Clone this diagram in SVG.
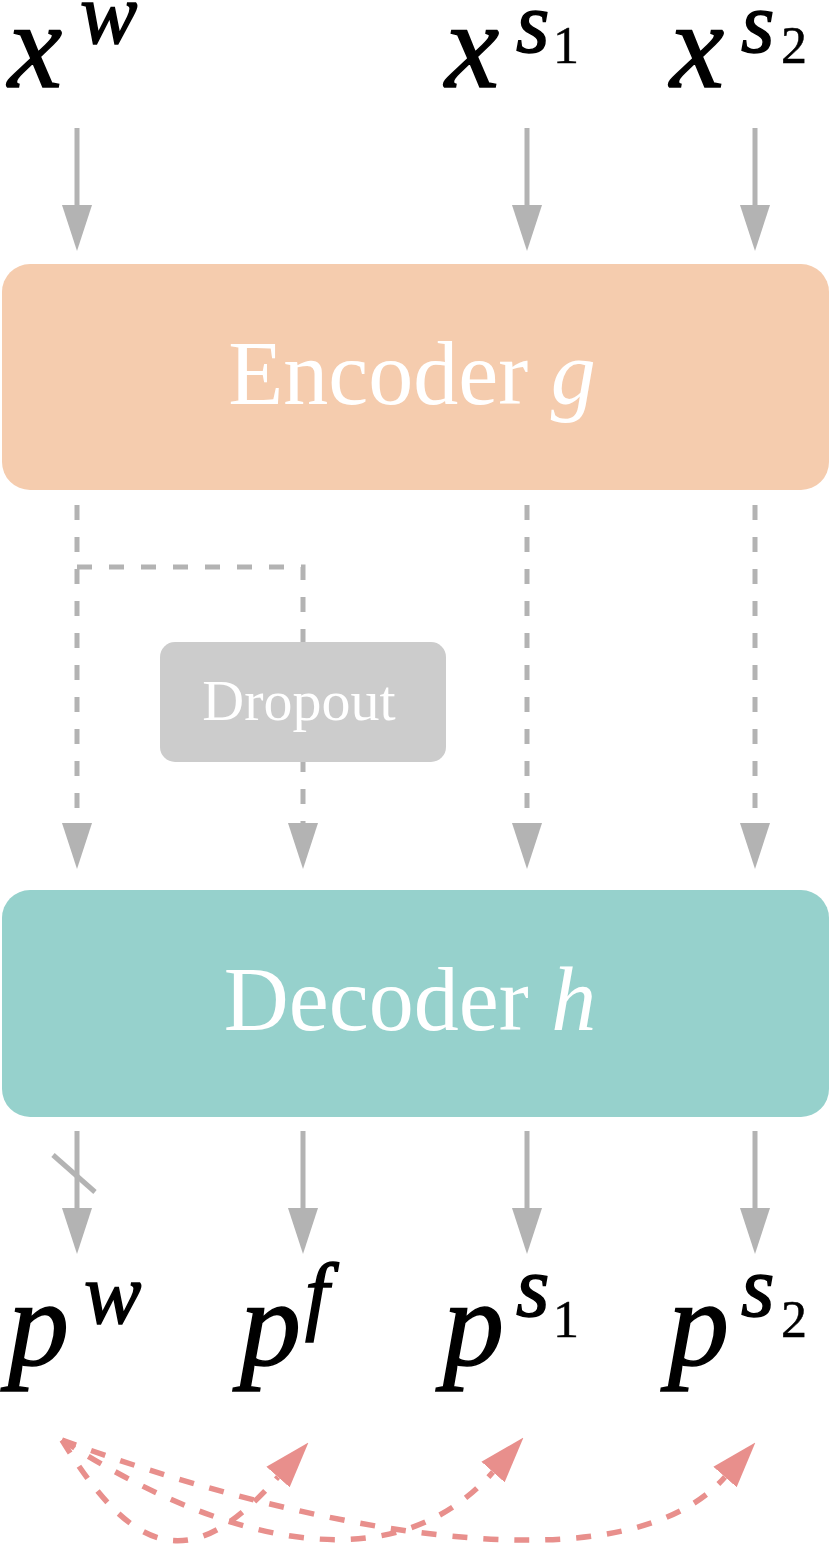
<svg xmlns="http://www.w3.org/2000/svg" width="830" height="1548" viewBox="0 0 830 1548">
<style>
.m{font-family:"Liberation Serif","Times New Roman",serif;font-style:italic;fill:#000;stroke:#000;stroke-width:1.5}
.big{font-size:122px}
.sup{font-size:86px}
.sub{font-size:52px;font-style:normal;stroke-width:0.5}
.bt{font-family:"Liberation Serif","Times New Roman",serif;fill:#fff;text-anchor:middle}
.g{stroke:#b3b3b3;stroke-width:5;fill:none}
.d{stroke-dasharray:15 17}
.r{stroke:#e88f8c;stroke-width:5.5;fill:none;stroke-dasharray:15 16}
</style>
<defs>
<marker id="ga" markerUnits="userSpaceOnUse" viewBox="0 -15 46 30" markerWidth="46" markerHeight="30" refX="0" refY="0" orient="auto">
<path d="M0,-15 L46,0 L0,15 Z" fill="#b3b3b3"/>
</marker>
<marker id="ra" markerUnits="userSpaceOnUse" viewBox="0 -16 46 32" markerWidth="46" markerHeight="32" refX="0" refY="0" orient="auto">
<path d="M0,-15.5 L46,0 L0,15.5 Z" fill="#e88f8c"/>
</marker>
</defs>

<g id="label-xw">
<text class="m big" x="8" y="87">x</text>
<text class="m sup" x="80" y="43">w</text>
</g>
<g id="label-xs1">
<text class="m big" x="445" y="87">x</text>
<text class="m sup" x="516" y="52">s</text>
<text class="m sub" x="553" y="63">1</text>
</g>
<g id="label-xs2">
<text class="m big" x="670" y="87">x</text>
<text class="m sup" x="741" y="52">s</text>
<text class="m sub" x="781" y="63">2</text>
</g>

<g id="encoder">
<rect x="2" y="264" width="827" height="226" rx="28" ry="28" fill="#f5ccae"/>
<text class="bt" x="412" y="404" font-size="90">Encoder <tspan font-style="italic">g</tspan></text>
</g>

<g id="connectors">
<line class="g" x1="77" y1="128" x2="77" y2="205" marker-end="url(#ga)"/>
<line class="g" x1="527" y1="128" x2="527" y2="205" marker-end="url(#ga)"/>
<line class="g" x1="755" y1="128" x2="755" y2="205" marker-end="url(#ga)"/>

<line class="g d" x1="77" y1="505" x2="77" y2="823" marker-end="url(#ga)"/>
<path class="g d" d="M77,567 H303 V823" marker-end="url(#ga)"/>
<line class="g d" x1="527" y1="505" x2="527" y2="823" marker-end="url(#ga)"/>
<line class="g d" x1="755" y1="505" x2="755" y2="823" marker-end="url(#ga)"/>

<line class="g" x1="77" y1="1131" x2="77" y2="1208" marker-end="url(#ga)"/>
<line class="g" x1="53" y1="1155" x2="95" y2="1192"/>
<line class="g" x1="303" y1="1131" x2="303" y2="1208" marker-end="url(#ga)"/>
<line class="g" x1="527" y1="1131" x2="527" y2="1208" marker-end="url(#ga)"/>
<line class="g" x1="755" y1="1131" x2="755" y2="1208" marker-end="url(#ga)"/>

<path class="r" d="M62,1440 C137,1563 195,1571 278,1477" marker-end="url(#ra)"/>
<path class="r" d="M62,1440 C203,1531 385,1594 493,1472" marker-end="url(#ra)"/>
<path class="r" d="M62,1440 C269,1517 616,1601 725,1477" marker-end="url(#ra)"/>
</g>

<g id="dropout">
<rect x="160" y="642" width="286" height="120" rx="15" ry="15" fill="#cccccc"/>
<text class="bt" x="299" y="720" font-size="58">Dropout</text>
</g>

<g id="decoder">
<rect x="2" y="890" width="827" height="227" rx="28" ry="28" fill="#96d1cc"/>
<text class="bt" x="410" y="1030" font-size="90">Decoder <tspan font-style="italic">h</tspan></text>
</g>

<g id="label-pw">
<text class="m big" x="8" y="1365">p</text>
<text class="m sup" x="84" y="1323">w</text>
</g>
<g id="label-pf">
<text class="m big" x="240" y="1365">p</text>
<text class="m sup" x="305" y="1323">f</text>
</g>
<g id="label-ps1">
<text class="m big" x="443" y="1365">p</text>
<text class="m sup" x="516" y="1316">s</text>
<text class="m sub" x="553" y="1337">1</text>
</g>
<g id="label-ps2">
<text class="m big" x="668" y="1365">p</text>
<text class="m sup" x="741" y="1316">s</text>
<text class="m sub" x="781" y="1337">2</text>
</g>
</svg>
